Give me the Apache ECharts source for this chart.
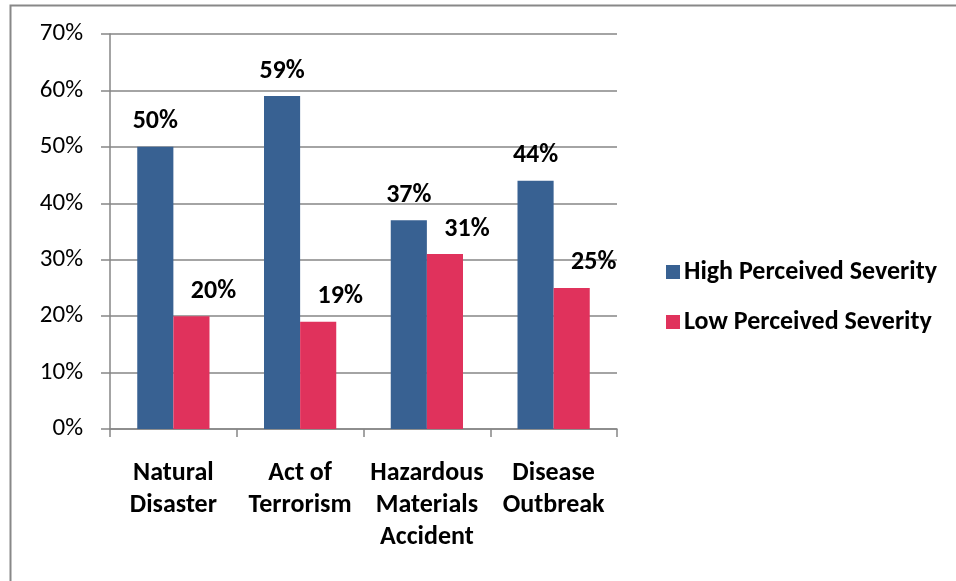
<!DOCTYPE html>
<html>
<head>
<meta charset="utf-8">
<script src="https://cdn.jsdelivr.net/npm/echarts@6/dist/echarts.min.js"></script>
<style>
html,body{margin:0;padding:0;background:#fff;}
#c{width:956px;height:581px;}
</style>
</head>
<body>
<div id="c"></div>
<script>
const categories = ['Natural\nDisaster', 'Act of\nTerrorism', 'Hazardous\nMaterials\nAccident', 'Disease\nOutbreak'];
const highSeverity = [50, 59, 37, 44];
const lowSeverity = [20, 19, 31, 25];
const seriesNames = ['High Perceived Severity', 'Low Perceived Severity'];

const FONT = 'Carlito, Lato, "Open Sans", sans-serif';
const chart = echarts.init(document.getElementById('c'), null, {renderer: 'canvas'});
const labelBase = {
  show: true, position: 'top', distance: 12,
  formatter: p => p.value + '%',
  fontFamily: FONT, fontWeight: 'bold', fontSize: 26, color: '#000'
};
chart.setOption({
  animation: false,
  backgroundColor: '#fff',
  graphic: [{
    type: 'rect', shape: {x: 10.5, y: 5.5, width: 980, height: 600},
    style: {fill: 'none', stroke: '#888', lineWidth: 2}, silent: true
  }],
  grid: {left: 110, right: 339, top: 34, bottom: 152, containLabel: false},
  legend: {
    orient: 'vertical', left: 661, top: 254, itemGap: 24,
    itemWidth: 14, itemHeight: 14, icon: 'rect',
    textStyle: {fontFamily: FONT, fontWeight: 'bold', fontSize: 26, color: '#000', padding: [0, 0, 0, -1]},
    data: seriesNames
  },
  xAxis: {
    type: 'category', data: categories,
    axisLine: {lineStyle: {color: '#868686', width: 1.5}},
    axisTick: {show: true, length: 8, lineStyle: {color: '#868686', width: 1.5}},
    axisLabel: {fontFamily: FONT, fontWeight: 'bold', fontSize: 26, color: '#000', margin: 28, lineHeight: 32, interval: 0}
  },
  yAxis: {
    type: 'value', min: 0, max: 70, interval: 10,
    axisLine: {show: true, lineStyle: {color: '#868686', width: 1.5}},
    axisTick: {show: true, length: 9, lineStyle: {color: '#868686', width: 1.5}},
    splitLine: {lineStyle: {color: '#868686', width: 1.5}},
    axisLabel: {formatter: '{value}%', fontFamily: FONT, fontSize: 25, color: '#000', margin: 27}
  },
  series: [
    {name: seriesNames[0], type: 'bar', data: highSeverity, barGap: '0%', barCategoryGap: '43%',
     itemStyle: {color: '#386192'}, label: labelBase},
    {name: seriesNames[1], type: 'bar', data: lowSeverity,
     itemStyle: {color: '#E0325C'}, label: Object.assign({}, labelBase, {offset: [22, 0]})}
  ]
});
</script>
</body>
</html>
